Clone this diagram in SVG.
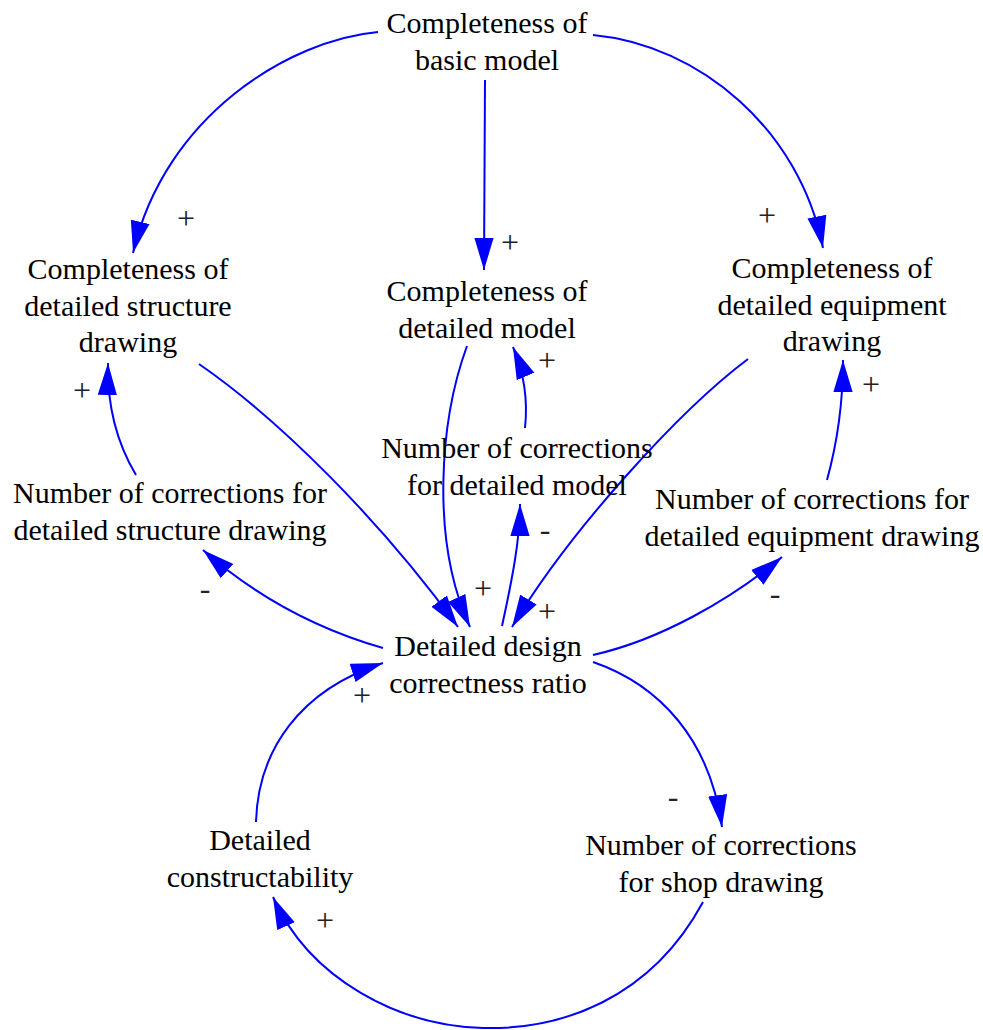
<svg xmlns="http://www.w3.org/2000/svg" width="983" height="1030" viewBox="0 0 983 1030">
  <defs>
    <marker id="head" markerUnits="userSpaceOnUse" markerWidth="32" markerHeight="20" viewBox="0 0 30 18" refX="30" refY="9" orient="auto">
      <path d="M0,0 L30,9 L0,18 Z" fill="#0000ff"/>
    </marker>
    <style>
      .node text { font-family: "Liberation Serif", "Times New Roman", serif; font-size: 30px; fill: #000; text-anchor: middle; }
      .link { fill: none; stroke: #0000ff; stroke-width: 2; marker-end: url(#head); }
      .sign { font-family: "Liberation Serif", "Times New Roman", serif; font-size: 32px; fill: #222; text-anchor: middle; }
    </style>
  </defs>
  <rect width="983" height="1030" fill="#ffffff"/>

  <!-- causal links -->
  <g id="connectors">
    <path class="link" d="M378,32 C290,40 165,115 133,253"/>
    <path class="link" d="M485,80 C485,150 484,210 484,270"/>
    <path class="link" d="M593,35 C700,45 800,130 823,248"/>
    <path class="link" d="M199,364 C280,420 380,520 458,627"/>
    <path class="link" d="M467,346 C440,420 430,540 470,627"/>
    <path class="link" d="M748,359 C680,410 570,530 512,627"/>
    <path class="link" d="M525,428 C528,400 525,375 513,347"/>
    <path class="link" d="M502,626 C512,580 520,540 520,504"/>
    <path class="link" d="M136,475 C118,445 107,410 108,363"/>
    <path class="link" d="M383,648 C320,630 260,600 203,550"/>
    <path class="link" d="M827,480 C838,440 843,400 843,360"/>
    <path class="link" d="M593,655 C660,640 730,600 782,557"/>
    <path class="link" d="M593,662 C660,685 710,740 722,827"/>
    <path class="link" d="M703,902 C650,1000 560,1030 483,1028 C400,1026 310,980 273,897"/>
    <path class="link" d="M256,822 C258,750 300,690 383,663"/>
  </g>

  <!-- polarity signs -->
  <g id="polarities">
    <text class="sign" x="186" y="229">+</text>
    <text class="sign" x="510" y="253">+</text>
    <text class="sign" x="767" y="226">+</text>
    <text class="sign" x="82" y="401">+</text>
    <text class="sign" x="547" y="371">+</text>
    <text class="sign" x="871" y="395">+</text>
    <text class="sign" x="545" y="540">-</text>
    <text class="sign" x="483" y="599">+</text>
    <text class="sign" x="547" y="622">+</text>
    <text class="sign" x="205" y="599">-</text>
    <text class="sign" x="775" y="604">-</text>
    <text class="sign" x="362" y="706">+</text>
    <text class="sign" x="673" y="807">-</text>
    <text class="sign" x="325" y="931">+</text>
  </g>

  <g id="basic-model" class="node">
    <text x="487" y="33">Completeness of</text>
    <text x="487" y="70">basic model</text>
  </g>
  <g id="structure-drawing" class="node">
    <text x="128" y="279">Completeness of</text>
    <text x="128" y="316">detailed structure</text>
    <text x="128" y="352">drawing</text>
  </g>
  <g id="detailed-model" class="node">
    <text x="487" y="301">Completeness of</text>
    <text x="487" y="338">detailed model</text>
  </g>
  <g id="equipment-drawing" class="node">
    <text x="832" y="278">Completeness of</text>
    <text x="832" y="315">detailed equipment</text>
    <text x="832" y="351">drawing</text>
  </g>
  <g id="model-corrections" class="node">
    <text x="517" y="458">Number of corrections</text>
    <text x="517" y="495">for detailed model</text>
  </g>
  <g id="structure-corrections" class="node">
    <text x="170" y="503">Number of corrections for</text>
    <text x="170" y="540">detailed structure drawing</text>
  </g>
  <g id="equipment-corrections" class="node">
    <text x="812" y="509">Number of corrections for</text>
    <text x="812" y="546">detailed equipment drawing</text>
  </g>
  <g id="correctness-ratio" class="node">
    <text x="488" y="656">Detailed design</text>
    <text x="488" y="693">correctness ratio</text>
  </g>
  <g id="constructability" class="node">
    <text x="260" y="850">Detailed</text>
    <text x="260" y="887">constructability</text>
  </g>
  <g id="shop-corrections" class="node">
    <text x="721" y="855">Number of corrections</text>
    <text x="721" y="892">for shop drawing</text>
  </g>
</svg>
